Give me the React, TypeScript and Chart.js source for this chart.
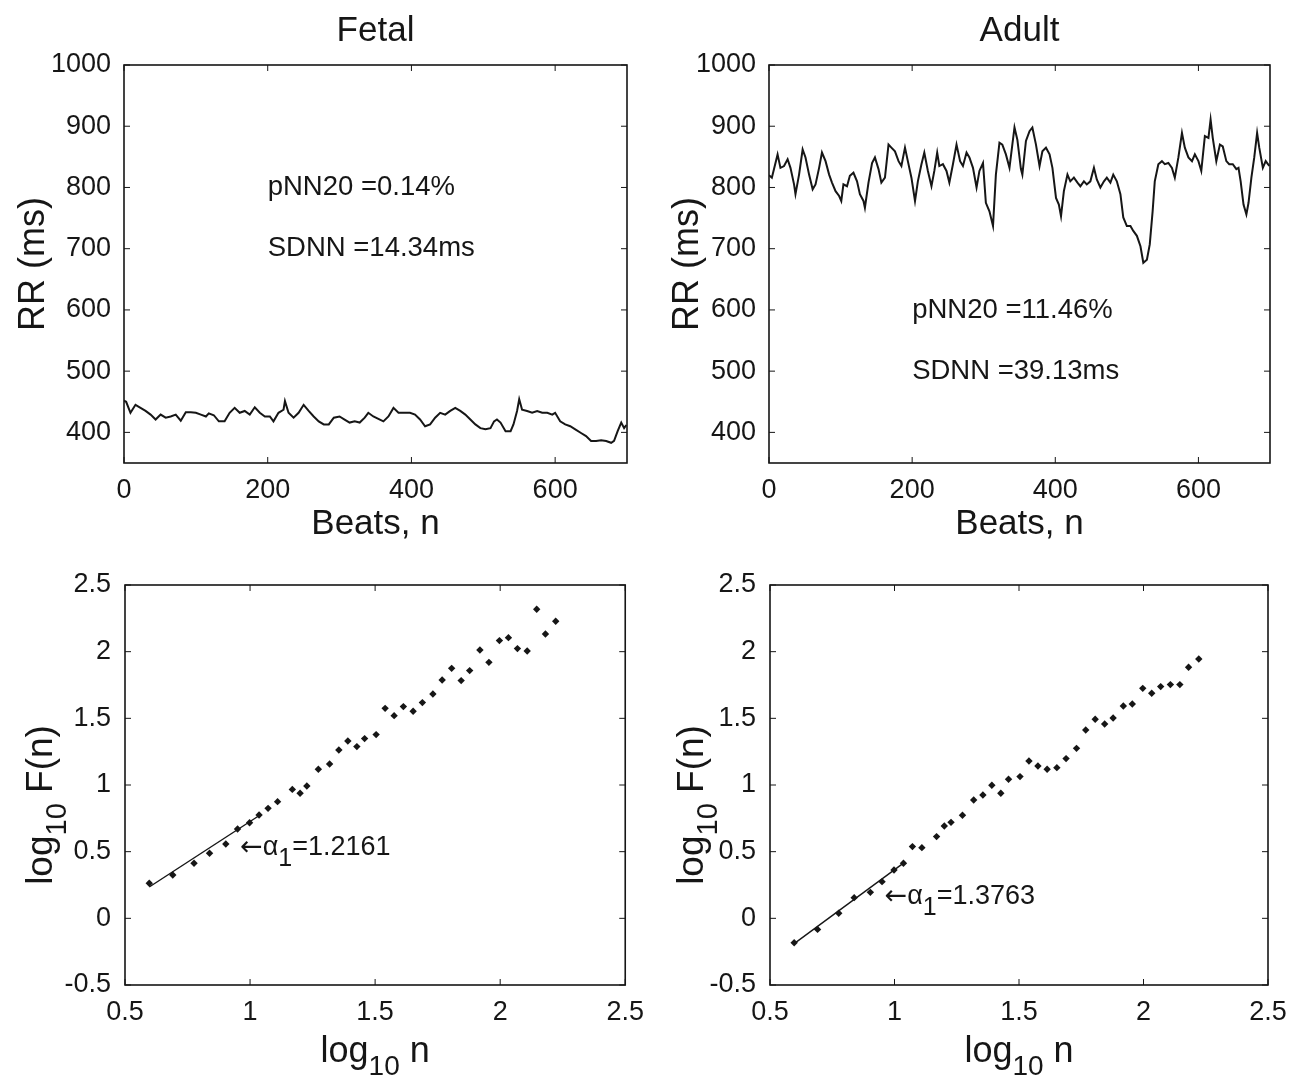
import React, { useEffect, useRef } from 'react';
import { Chart, registerables } from 'chart.js';

Chart.register(...registerables);

const FONT = '"Liberation Sans", Arial, Helvetica, sans-serif';
const ARROW_FONT = '"DejaVu Sans", "Liberation Sans", sans-serif';
const INK = '#161616';

// ---------- Top panels: RR interval series ----------
const fetalBeats = [0, 3, 9, 16, 23, 30, 37, 44, 51, 58, 65, 72, 79, 86, 93, 100, 107, 114, 118, 125, 132, 140, 147, 154, 161, 168, 175, 182, 189, 196, 203, 208, 215, 222, 224, 229, 236, 243, 250, 257, 264, 271, 278, 285, 292, 300, 307, 314, 321, 328, 335, 340, 347, 354, 361, 368, 375, 382, 389, 398, 405, 412, 419, 426, 433, 440, 447, 454, 461, 468, 475, 482, 489, 496, 503, 510, 515, 519, 524, 531, 538, 542, 547, 550, 554, 561, 568, 575, 582, 589, 596, 600, 607, 614, 621, 628, 636, 643, 650, 657, 664, 671, 678, 682, 687, 692, 696, 699];
const fetalRR = [452, 450, 432, 445, 440, 435, 429, 421, 429, 424, 426, 429, 419, 433, 433, 432, 429, 426, 431, 428, 418, 418, 432, 440, 432, 435, 429, 441, 432, 426, 426, 418, 432, 437, 451, 432, 424, 432, 445, 435, 426, 418, 413, 413, 424, 426, 421, 416, 418, 416, 424, 432, 426, 422, 418, 426, 440, 432, 432, 432, 429, 421, 410, 413, 424, 432, 429, 435, 440, 435, 429, 421, 413, 407, 405, 407, 418, 421, 416, 402, 402, 413, 435, 454, 437, 435, 432, 435, 432, 432, 429, 432, 418, 413, 410, 405, 399, 394, 386, 386, 387, 386, 383, 386, 402, 416, 407, 412];

const adultBeats = [0, 4, 7, 12, 16, 21, 26, 30, 35, 37, 42, 47, 51, 56, 61, 65, 70, 74, 79, 84, 88, 93, 98, 101, 104, 109, 113, 118, 123, 127, 132, 134, 139, 144, 148, 153, 157, 162, 167, 171, 176, 181, 185, 190, 194, 199, 204, 208, 213, 217, 222, 227, 231, 235, 238, 243, 248, 252, 257, 262, 267, 271, 276, 280, 285, 290, 294, 299, 303, 308, 313, 317, 322, 326, 331, 336, 340, 343, 347, 352, 354, 359, 364, 368, 373, 378, 382, 387, 392, 396, 401, 405, 408, 412, 417, 421, 426, 431, 435, 440, 444, 449, 454, 458, 463, 468, 472, 477, 481, 486, 491, 495, 500, 505, 509, 514, 519, 523, 528, 532, 536, 539, 544, 549, 553, 558, 563, 567, 572, 577, 581, 586, 591, 595, 600, 604, 609, 614, 617, 620, 625, 630, 634, 639, 643, 648, 653, 656, 659, 663, 667, 670, 674, 678, 682, 685, 690, 694, 699];
const adultRR = [820, 816, 830, 854, 832, 835, 846, 832, 805, 789, 821, 862, 849, 821, 797, 805, 832, 857, 843, 821, 808, 794, 786, 778, 805, 802, 819, 824, 810, 789, 778, 767, 808, 840, 849, 830, 808, 816, 870, 865, 859, 843, 835, 865, 843, 816, 778, 810, 838, 857, 827, 802, 827, 857, 835, 838, 827, 808, 838, 870, 843, 835, 857, 849, 832, 800, 827, 840, 775, 761, 737, 821, 873, 870, 854, 832, 870, 898, 878, 830, 821, 876, 892, 898, 870, 835, 859, 865, 854, 832, 783, 772, 753, 794, 821, 810, 816, 808, 802, 810, 805, 810, 832, 813, 800, 810, 816, 808, 821, 810, 789, 751, 737, 737, 729, 721, 704, 677, 682, 707, 761, 810, 838, 843, 838, 840, 832, 816, 849, 889, 865, 849, 843, 854, 843, 827, 884, 881, 911, 881, 843, 870, 867, 843, 838, 838, 830, 832, 810, 772, 756, 775, 816, 849, 889, 865, 832, 843, 835];

const rrTicks = [400, 500, 600, 700, 800, 900, 1000];
const beatTicks = [0, 200, 400, 600];

// ---------- Bottom panels: DFA ----------
const logN = [0.597, 0.691, 0.776, 0.838, 0.903, 0.95, 0.998, 1.036, 1.072, 1.11, 1.169, 1.2, 1.227, 1.273, 1.318, 1.355, 1.391, 1.427, 1.458, 1.504, 1.54, 1.576, 1.613, 1.652, 1.689, 1.731, 1.768, 1.806, 1.844, 1.878, 1.919, 1.955, 1.997, 2.033, 2.069, 2.108, 2.146, 2.181, 2.222];
const fetalLogF = [0.263, 0.325, 0.413, 0.488, 0.558, 0.67, 0.717, 0.775, 0.825, 0.875, 0.967, 0.938, 0.993, 1.118, 1.158, 1.263, 1.33, 1.288, 1.348, 1.378, 1.575, 1.52, 1.588, 1.553, 1.618, 1.683, 1.788, 1.875, 1.783, 1.858, 2.013, 1.92, 2.083, 2.105, 2.023, 2.005, 2.318, 2.133, 2.228];
const adultLogF = [-0.183, -0.083, 0.038, 0.155, 0.195, 0.275, 0.363, 0.413, 0.538, 0.53, 0.613, 0.693, 0.72, 0.773, 0.888, 0.925, 0.998, 0.938, 1.043, 1.063, 1.18, 1.143, 1.118, 1.13, 1.198, 1.275, 1.413, 1.493, 1.458, 1.503, 1.593, 1.608, 1.725, 1.688, 1.738, 1.753, 1.753, 1.883, 1.945];
const fitLogN = [0.597, 1.04];
const fetalFit = [0.235, 0.775];
const adultFit = [-0.19, 0.42];
const dfaYTicks = [-0.5, 0, 0.5, 1, 1.5, 2, 2.5];
const dfaXTicks = [0.5, 1, 1.5, 2, 2.5];

type Part = { t: string; size: number; dy?: number; family?: string };

const font = (size: number) => ({ family: FONT, size, weight: 'normal' as const, lineHeight: 1.2 });

function drawParts(ctx: CanvasRenderingContext2D, parts: Part[], x: number, y: number, align: 'left' | 'center') {
  let total = 0;
  for (const p of parts) {
    ctx.font = `${p.size}px ${p.family || FONT}`;
    total += ctx.measureText(p.t).width;
  }
  let cx = align === 'center' ? x - total / 2 : x;
  ctx.textAlign = 'left';
  for (const p of parts) {
    ctx.font = `${p.size}px ${p.family || FONT}`;
    ctx.fillText(p.t, cx, y + (p.dy || 0));
    cx += ctx.measureText(p.t).width;
  }
}

const framePlugin = {
  id: 'frame',
  afterDatasetsDraw(chart: any) {
    const { ctx, chartArea: a } = chart;
    const xs = chart.scales.x;
    const ys = chart.scales.y;
    const L = 6;
    ctx.save();
    ctx.strokeStyle = INK;
    ctx.lineWidth = 1.6;
    ctx.strokeRect(a.left, a.top, a.right - a.left, a.bottom - a.top);
    ctx.beginPath();
    xs.ticks.forEach((t: any) => {
      const px = xs.getPixelForValue(t.value);
      ctx.moveTo(px, a.bottom);
      ctx.lineTo(px, a.bottom - L);
      ctx.moveTo(px, a.top);
      ctx.lineTo(px, a.top + L);
    });
    ys.ticks.forEach((t: any) => {
      const py = ys.getPixelForValue(t.value);
      ctx.moveTo(a.left, py);
      ctx.lineTo(a.left + L, py);
      ctx.moveTo(a.right, py);
      ctx.lineTo(a.right - L, py);
    });
    ctx.lineWidth = 1;
    ctx.stroke();
    ctx.restore();
  },
};

const notesPlugin = {
  id: 'notes',
  afterDraw(chart: any, _args: any, opts: any) {
    const { ctx, chartArea: a } = chart;
    const xs = chart.scales.x;
    const ys = chart.scales.y;
    ctx.save();
    ctx.fillStyle = INK;
    ctx.textBaseline = 'middle';
    for (const n of opts.items || []) {
      drawParts(ctx, n.parts, xs.getPixelForValue(n.x), ys.getPixelForValue(n.y), 'left');
    }
    ctx.textBaseline = 'alphabetic';
    if (opts.xTitle) {
      drawParts(ctx, opts.xTitle, (a.left + a.right) / 2, a.bottom + opts.xTitleGap, 'center');
    }
    if (opts.yTitle) {
      ctx.translate(a.left - opts.yTitleGap, (a.top + a.bottom) / 2 + opts.yTitleShift);
      ctx.rotate(-Math.PI / 2);
      drawParts(ctx, opts.yTitle, 0, 0, 'center');
    }
    ctx.restore();
  },
};

function axis(ticks: number[], min: number, max: number, fitSize: number, horizontal: boolean, tickPad: number, title?: any) {
  return {
    type: 'linear' as const,
    min,
    max,
    grid: { display: false },
    border: { display: false },
    afterBuildTicks: (s: any) => {
      s.ticks = ticks.map((v) => ({ value: v }));
    },
    afterFit: (s: any) => {
      if (horizontal) s.height = fitSize;
      else s.width = fitSize;
    },
    ticks: {
      color: INK,
      font: font(27),
      padding: tickPad,
      maxRotation: 0,
      autoSkip: false,
      callback: (v: any) => String(v),
    },
    title: title || { display: false },
  };
}

function rrConfig(beats: number[], rr: number[], title: string, yAxisW: number, padRight: number, yTitlePad: number, notes: string[], noteY: number[]) {
  return {
    type: 'line' as const,
    data: {
      datasets: [
        {
          data: beats.map((b, i) => ({ x: b, y: rr[i] })),
          borderColor: INK,
          borderWidth: 2,
          pointRadius: 0,
          tension: 0,
          fill: false,
        },
      ],
    },
    options: {
      responsive: false,
      animation: false as const,
      layout: { padding: { left: 0, right: padRight, top: 0, bottom: 0 } },
      scales: {
        x: axis(beatTicks, 0, 700, 82, true, 3, {
          display: true,
          text: 'Beats, n',
          color: INK,
          font: font(35),
          padding: { top: 0, bottom: 0 },
        }),
        y: axis(rrTicks, 350, 1000, yAxisW, false, 5, {
          display: true,
          text: 'RR (ms)',
          color: INK,
          font: font(36),
          padding: { top: yTitlePad, bottom: 0 },
        }),
      },
      plugins: {
        legend: { display: false },
        tooltip: { enabled: false },
        title: {
          display: true,
          text: title,
          color: INK,
          font: font(35),
          fullSize: false,
          padding: { top: 10, bottom: 13 },
        },
        notes: {
          items: notes.map((t, i) => ({ x: 200, y: noteY[i], parts: [{ t, size: 27.5 }] })),
        },
      },
    },
    plugins: [framePlugin, notesPlugin],
  };
}

function dfaConfig(logF: number[], fit: number[], yAxisW: number, padRight: number, alphaText: string, alphaY: number, yTitleGap: number) {
  return {
    type: 'scatter' as const,
    data: {
      datasets: [
        {
          data: logN.map((x, i) => ({ x, y: logF[i] })),
          pointStyle: 'rectRot' as const,
          pointRadius: 3.7,
          backgroundColor: INK,
          borderColor: INK,
          borderWidth: 0,
          showLine: false,
        },
        {
          data: fitLogN.map((x, i) => ({ x, y: fit[i] })),
          showLine: true,
          borderColor: INK,
          borderWidth: 1.4,
          pointRadius: 0,
        },
      ],
    },
    options: {
      responsive: false,
      animation: false as const,
      layout: { padding: { left: 0, right: padRight, top: 40, bottom: 0 } },
      scales: {
        x: axis(dfaXTicks, 0.5, 2.5, 93, true, 3),
        y: axis(dfaYTicks, -0.5, 2.5, yAxisW, false, 6),
      },
      plugins: {
        legend: { display: false },
        tooltip: { enabled: false },
        notes: {
          items: [
            {
              x: 0.96,
              y: alphaY,
              parts: [
                { t: '\u2190', size: 27, family: ARROW_FONT },
                { t: '\u03b1', size: 27 },
                { t: '1', size: 25, dy: 11 },
                { t: '=' + alphaText, size: 27 },
              ],
            },
          ],
          xTitle: [
            { t: 'log', size: 36 },
            { t: '10', size: 28, dy: 13 },
            { t: ' n', size: 36 },
          ],
          xTitleGap: 77,
          yTitle: [
            { t: 'log', size: 37 },
            { t: '10', size: 29, dy: 14 },
            { t: ' F(n)', size: 37 },
          ],
          yTitleGap: yTitleGap,
          yTitleShift: 20,
        },
      },
    },
    plugins: [framePlugin, notesPlugin],
  };
}

function Panel({ config, left, top, width, height }: any) {
  const ref = useRef<HTMLCanvasElement>(null);
  useEffect(() => {
    if (!ref.current) return;
    const chart = new Chart(ref.current, config as any);
    return () => chart.destroy();
  }, []);
  return (
    <div style={{ position: 'absolute', left, top, width, height }}>
      <canvas ref={ref} width={width} height={height} style={{ display: 'block', width, height }} />
    </div>
  );
}

export default function App() {
  return (
    <div style={{ position: 'absolute', left: 0, top: 0, width: 1294, height: 1078, background: '#fff', overflow: 'hidden' }}>
      <Panel
        left={0}
        top={0}
        width={647}
        height={545}
        config={rrConfig(fetalBeats, fetalRR, 'Fetal', 124, 20, 12, ['pNN20 =0.14%', 'SDNN =14.34ms'], [800, 700])}
      />
      <Panel
        left={647}
        top={0}
        width={647}
        height={545}
        config={rrConfig(adultBeats, adultRR, 'Adult', 122, 24, 19, ['pNN20 =11.46%', 'SDNN =39.13ms'], [600, 500])}
      />
      <Panel
        left={0}
        top={545}
        width={647}
        height={533}
        config={dfaConfig(fetalLogF, fetalFit, 125, 20, '1.2161', 0.53, 73)}
      />
      <Panel
        left={647}
        top={545}
        width={647}
        height={533}
        config={dfaConfig(adultLogF, adultFit, 123, 26, '1.3763', 0.16, 67)}
      />
    </div>
  );
}
